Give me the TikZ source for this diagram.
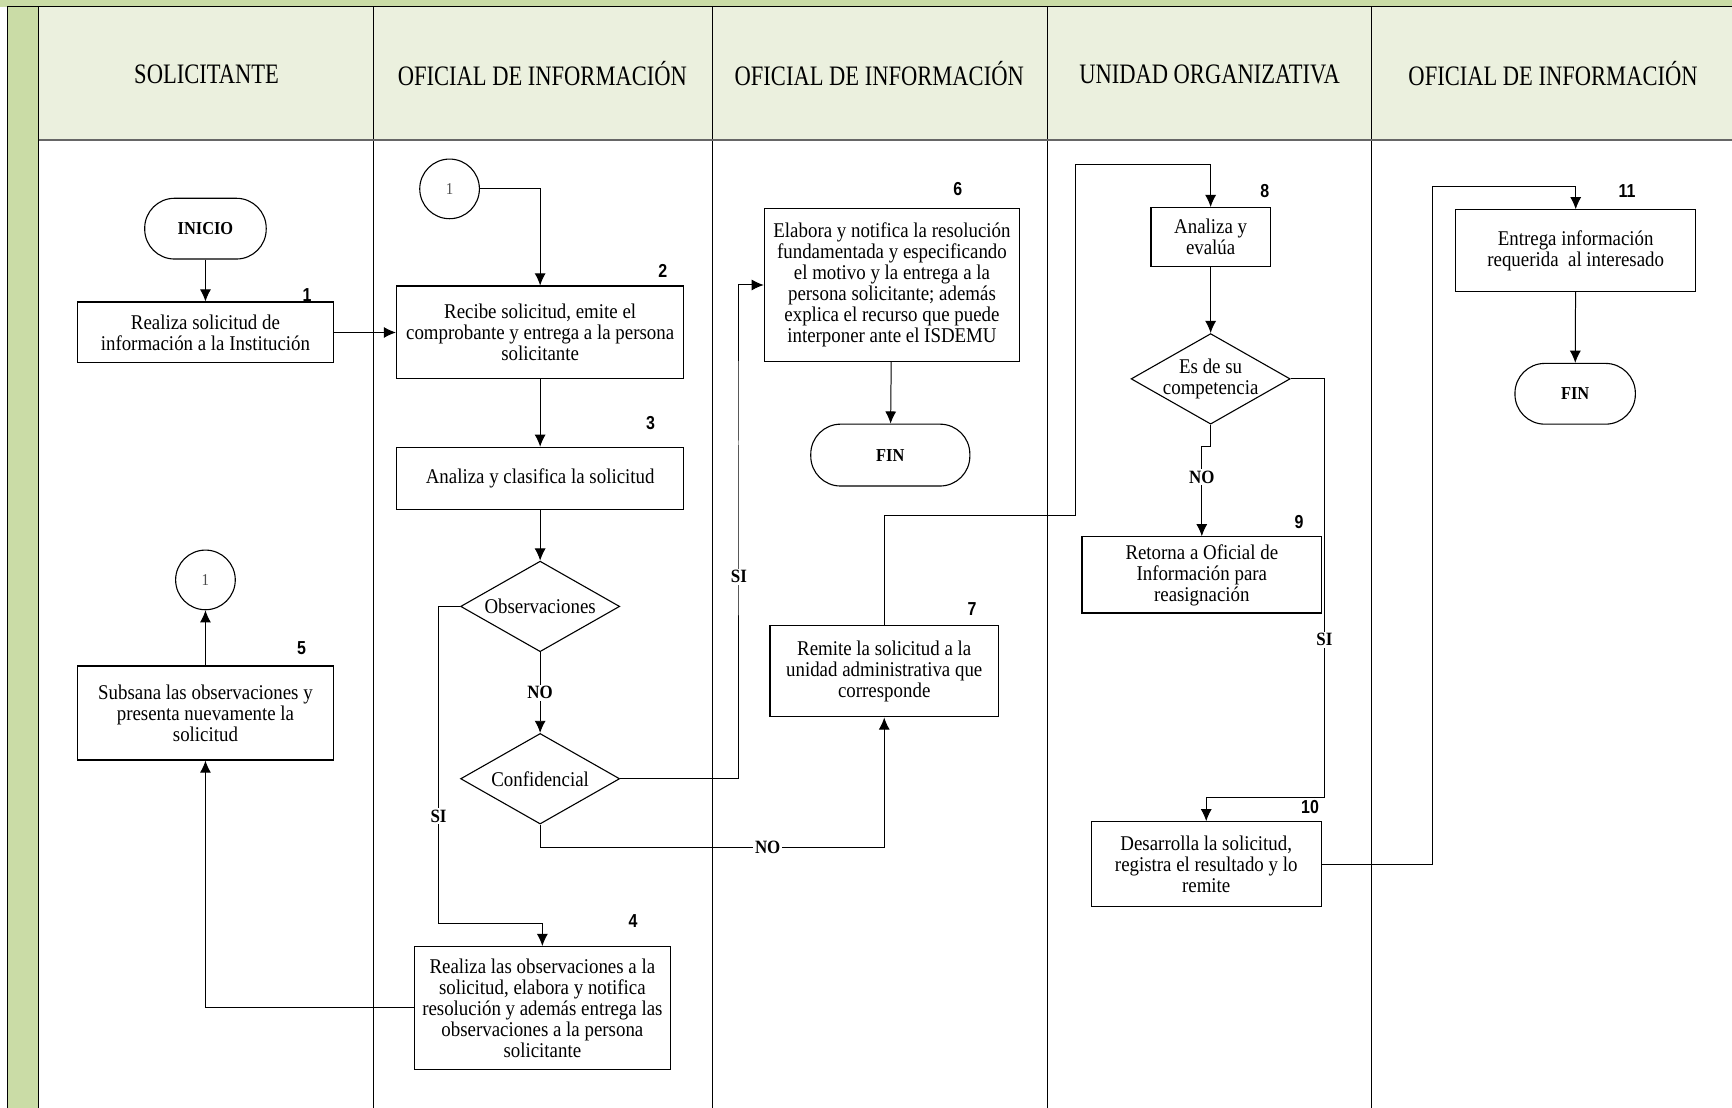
\documentclass[tikz,border=0pt]{standalone}
\usepackage{fontspec}
\setmainfont{Liberation Serif}[FakeStretch=0.9]
\newfontfamily\numfont{Liberation Sans}[FakeStretch=0.85]
\newfontfamily\lanefont{Liberation Serif}[FakeStretch=0.8]
\usetikzlibrary{arrows.meta,shapes.geometric}
\definecolor{bandgreen}{RGB}{202,220,166}
\definecolor{hdrgreen}{RGB}{235,240,222}

\begin{document}
\begin{tikzpicture}[x=1pt,y=-1pt,
  arr/.style={line width=0.9pt,-{Latex[length=11pt,width=10pt]}},
  box/.style={draw,line width=1.1pt,align=center,inner sep=2pt,font=\fontsize{19}{19}\selectfont},
  term/.style={draw,line width=1pt,rounded corners=27pt,font=\bfseries\fontsize{16.5}{18}\selectfont},
  dec/.style={draw,diamond,line width=1pt,inner sep=0pt,minimum width=144pt,minimum height=82pt},
  dectext/.style={align=center,inner sep=0pt,font=\fontsize{19}{19}\selectfont},
  conn/.style={draw,circle,line width=1pt,minimum size=54pt,inner sep=0pt,text=black!70,font=\fontsize{15}{15}\selectfont},
  num/.style={inner sep=0pt,font=\numfont\bfseries\fontsize{17}{18}\selectfont},
  lbl/.style={fill=white,inner sep=1.5pt,font=\bfseries\fontsize{17}{18}\selectfont},
  lane/.style={font=\lanefont\fontsize{25.5}{28}\selectfont}]

\useasboundingbox (0,0) rectangle (1568,1003);

% swimlane frame
\fill[bandgreen] (0,0) rectangle (1568,6);
\fill[hdrgreen] (35,6) rectangle (1568,127);
\fill[bandgreen] (7,6) rectangle (35,1003);
\draw[line width=0.9pt] (7,1003) -- (7,6) -- (1568,6);
\draw[line width=1.4pt] (35,6) -- (35,1003);
\foreach \x in {338,645,948,1242} \draw[line width=0.9pt] (\x,6) -- (\x,1003);
\draw[black!60,line width=2pt] (35,127) -- (1568,127);

% lane titles
\node[lane] (h1) at (187,67) {SOLICITANTE};
\node[lane] (h2) at (491,67) {OFICIAL DE INFORMACIÓN};
\node[lane] (h3) at (796,67) {OFICIAL DE INFORMACIÓN};
\node[lane] (h4) at (1095,67) {UNIDAD ORGANIZATIVA};
\node[lane] (h5) at (1406,67) {OFICIAL DE INFORMACIÓN};

% solicitante
\node[term,minimum width=110pt,minimum height=55pt] (ini) at (186,207) {INICIO};
\node[box,minimum width=232pt,minimum height=55pt] (b1) at (186,301) {Realiza solicitud de\\información a la Institución};
\node[conn] (c1a) at (186,525) {1};
\node[box,minimum width=232pt,minimum height=85pt] (b5) at (186,645.5) {Subsana las observaciones y\\presenta nuevamente la\\solicitud};

% oficial de informacion (recepcion)
\node[conn] (c1b) at (407,171) {1};
\node[box,minimum width=260pt,minimum height=84pt] (b2) at (489,301) {Recibe solicitud, emite el\\comprobante y entrega a la persona\\solicitante};
\node[box,minimum width=260pt,minimum height=56pt] (b3) at (489,433) {Analiza y clasifica la solicitud};
\node[dec] (obs) at (489,549) {};
\node[dectext] (obst) at (obs) {Observaciones};
\node[dec] (conf) at (489,705) {};
\node[dectext] (conft) at (conf) {Confidencial};
\node[box,minimum width=232pt,minimum height=111pt] (b4) at (491,912.5) {Realiza las observaciones a la\\solicitud, elabora y notifica\\resolución y además entrega las\\observaciones a la persona\\solicitante};

% oficial de informacion (resolucion)
\node[box,minimum width=231pt,minimum height=138pt] (b6) at (807.5,258) {Elabora y notifica la resolución\\fundamentada y especificando\\el motivo y la entrega a la\\persona solicitante; además\\explica el recurso que puede\\interponer ante el ISDEMU};
\node[term,minimum width=144pt,minimum height=56pt] (fin1) at (806,412) {FIN};
\node[box,minimum width=207pt,minimum height=83pt] (b7) at (800.5,607.5) {Remite la solicitud a la\\unidad administrativa que\\corresponde};

% unidad organizativa
\node[box,minimum width=108pt,minimum height=53pt] (b8) at (1096,214.5) {Analiza y\\evalúa};
\node[dec] (comp) at (1096,343) {};
\node[dectext] (compt) at (comp) {Es de su\\competencia};
\node[box,minimum width=217pt,minimum height=69pt] (b9) at (1088,520.5) {Retorna a Oficial de\\Información para\\reasignación};
\node[box,minimum width=208pt,minimum height=77pt] (b10) at (1092,782.5) {Desarrolla la solicitud,\\registra el resultado y lo\\remite};

% oficial de informacion (entrega)
\node[box,minimum width=217pt,minimum height=74pt] (b11) at (1426.5,227) {Entrega información\\requerida \ al interesado};
\node[term,minimum width=109pt,minimum height=55pt] (fin2) at (1426,356.5) {FIN};

% step numbers
\node[num] (n1) at (278,267) {1};
\node[num] (n2) at (600,245) {2};
\node[num] (n3) at (589,383) {3};
\node[num] (n4) at (573,834) {4};
\node[num] (n5) at (273,587) {5};
\node[num] (n6) at (867,171) {6};
\node[num] (n7) at (880,551) {7};
\node[num] (n8) at (1145,173) {8};
\node[num] (n9) at (1176,473) {9};
\node[num] (n10) at (1186,731) {10};
\node[num] (n11) at (1473,173) {11};

% connectors
\draw[arr] (ini) -- (b1);
\draw[arr] (b1.east) -- (b1.east -| b2.west);
\draw[arr] (c1b.east) -| (b2.north);
\draw[arr] (b2) -- (b3);
\draw[arr] (b3) -- (obs.north);
\draw[arr] (obs.south) -- (conf.north);
\draw[arr] (obs.west) -- (397,549) |- (491,836) -- (b4.north);
\draw[arr] (b4.west) -| (b5.south);
\draw[arr] (b5) -- (c1a);
\draw[arr] (conf.east) -| (669,400) |- (b6.west);
\draw[arr] (b6) -- (fin1);
\draw[arr] (conf.south) -- (489,767) -| (b7.south);
\draw[arr] (b7.north) |- (974,467) -- (974,149) -| (b8.north);
\draw[arr] (b8) -- (comp.north);
\draw[arr] (comp.south) -- (1096,404) -| (b9.north);
\draw[arr] (comp.east) -| (1199,722) -| (b10.north);
\draw[arr] (b10.east) -| (1297,169) -| (b11.north);
\draw[arr] (b11) -- (fin2);

% branch labels
\node[lbl] (l1) at (489,627) {NO};
\node[lbl] (l2) at (397,739) {SI};
\node[lbl] (l3) at (669,522) {SI};
\node[lbl] (l4) at (695,767) {NO};
\node[lbl] (l5) at (1088,432) {NO};
\node[lbl] (l6) at (1199,579) {SI};

\end{tikzpicture}
\end{document}
